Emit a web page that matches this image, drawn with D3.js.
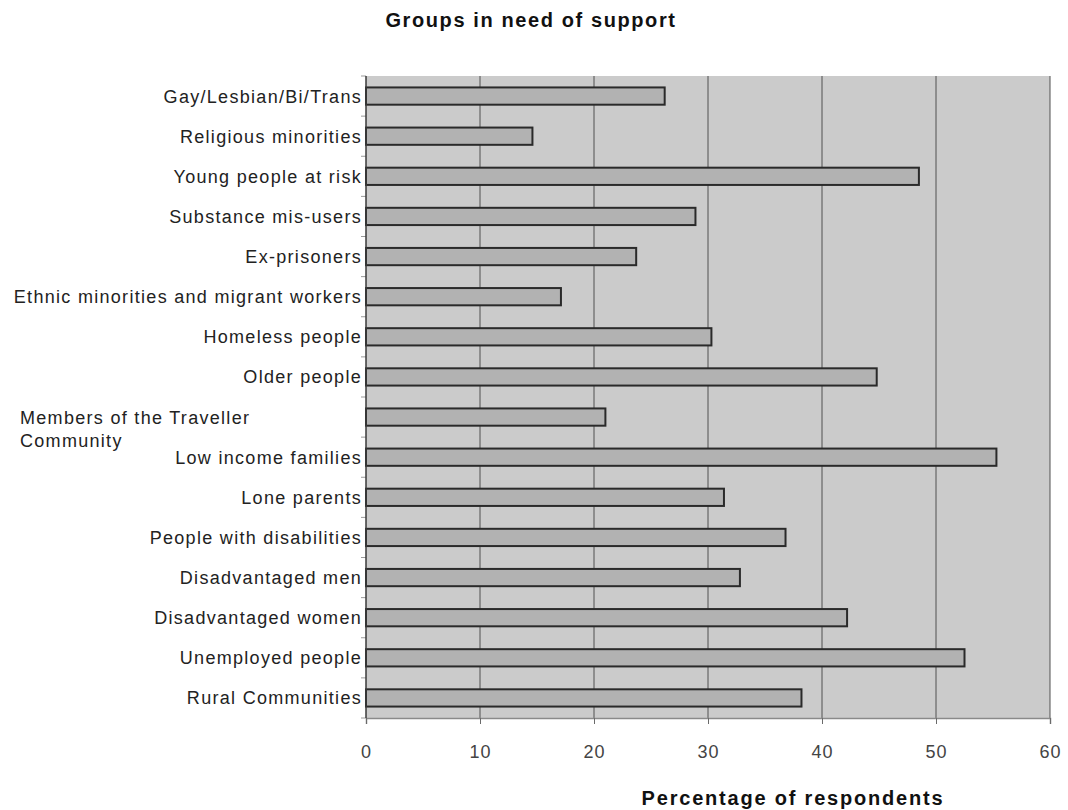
<!DOCTYPE html>
<html>
<head>
<meta charset="utf-8">
<script src="https://cdn.jsdelivr.net/npm/d3@7"></script>
<style>
  html, body { margin: 0; padding: 0; background: #fff; }
  svg { display: block; }
  text { font-family: "Liberation Sans", Arial, sans-serif; }
</style>
</head>
<body>
<svg id="chart" width="1068" height="810"></svg>
<script>
// Groups listed top to bottom
const groups = [
  "Gay/Lesbian/Bi/Trans",
  "Religious minorities",
  "Young people at risk",
  "Substance mis-users",
  "Ex-prisoners",
  "Ethnic minorities and migrant workers",
  "Homeless people",
  "Older people",
  "Members of the Traveller Community",
  "Low income families",
  "Lone parents",
  "People with disabilities",
  "Disadvantaged men",
  "Disadvantaged women",
  "Unemployed people",
  "Rural Communities"
];

// Percentage of respondents naming each group
const percentages = [
  26.2, 14.6, 48.5, 28.9, 23.7, 17.1, 30.3, 44.8,
  21.0, 55.3, 31.4, 36.8, 32.8, 42.2, 52.5, 38.2
];

const xTicks = [0, 10, 20, 30, 40, 50, 60];

const chartTitle = "Groups in need of support";
const xTitle = "Percentage of respondents";

const svg = d3.select("#chart");
const margin = { left: 366, right: 18, top: 76, bottom: 92 };
const W = 1068, H = 810;

const x = d3.scaleLinear()
  .domain([0, 60])
  .range([margin.left, W - margin.right]);

const y = d3.scaleBand()
  .domain(groups)
  .range([margin.top, H - margin.bottom])
  .paddingInner(0.57)
  .paddingOuter(0.285);

// Plot background
svg.append("rect")
  .attr("x", x(0))
  .attr("y", margin.top)
  .attr("width", x(60) - x(0))
  .attr("height", H - margin.bottom - margin.top)
  .attr("fill", "#cbcbcb");

// Vertical gridlines
svg.append("g")
  .selectAll("line")
  .data(xTicks.slice(1))
  .join("line")
  .attr("x1", d => x(d))
  .attr("x2", d => x(d))
  .attr("y1", margin.top)
  .attr("y2", H - margin.bottom)
  .attr("stroke", "#505050")
  .attr("stroke-width", 1);

// Bars
svg.append("g")
  .selectAll("rect")
  .data(groups)
  .join("rect")
  .attr("x", x(0))
  .attr("y", d => y(d))
  .attr("width", (d, i) => x(percentages[i]) - x(0))
  .attr("height", y.bandwidth())
  .attr("fill", "#b2b2b2")
  .attr("stroke", "#2a2a2a")
  .attr("stroke-width", 2);

// X axis
const xAxis = svg.append("g")
  .attr("transform", `translate(0,${H - margin.bottom})`)
  .call(d3.axisBottom(x).tickValues(xTicks).tickSize(6).tickPadding(21).tickFormat(d3.format("d")));
xAxis.select(".domain").attr("stroke", "#8a8a8a").attr("stroke-width", 1.5);
xAxis.selectAll(".tick line").attr("stroke", "#6a6a6a");
xAxis.selectAll(".tick text")
  .attr("fill", "#444")
  .style("font-size", "18px")
  .style("letter-spacing", "1px")
  .style("font-family", "'Liberation Sans', Arial, sans-serif");

// Y axis: tick marks at band boundaries
const boundaries = groups.map(g => y(g) - y.step() * y.paddingInner() / 2);
boundaries.push(H - margin.bottom);
svg.append("g")
  .selectAll("line")
  .data(boundaries)
  .join("line")
  .attr("x1", x(0) - 5)
  .attr("x2", x(0))
  .attr("y1", d => d)
  .attr("y2", d => d)
  .attr("stroke", "#9a9a9a");

svg.append("line")
  .attr("x1", x(0)).attr("x2", x(0))
  .attr("y1", margin.top).attr("y2", H - margin.bottom)
  .attr("stroke", "#3a3a3a")
  .attr("stroke-width", 1.5);

// Category labels
const labelG = svg.append("g")
  .style("font-size", "18px")
  .style("letter-spacing", "1.3px")
  .attr("fill", "#222");
groups.forEach((g, i) => {
  const cy = y(g) + y.bandwidth() / 2;
  if (g === "Members of the Traveller Community") {
    const t = labelG.append("text")
      .attr("x", 20)
      .attr("y", cy)
      .attr("dy", "0.36em");
    t.append("tspan").attr("x", 20).text("Members of the Traveller");
    t.append("tspan").attr("x", 20).attr("dy", 23).text("Community");
  } else {
    labelG.append("text")
      .attr("x", x(0) - 4)
      .attr("y", cy)
      .attr("dy", "0.36em")
      .attr("text-anchor", "end")
      .text(g);
  }
});

// Titles
svg.append("text")
  .attr("x", 531)
  .attr("y", 27)
  .attr("text-anchor", "middle")
  .attr("fill", "#111")
  .style("font-size", "20px")
  .style("letter-spacing", "1.6px")
  .style("font-weight", "bold")
  .text(chartTitle);

svg.append("text")
  .attr("x", 793)
  .attr("y", 805)
  .attr("text-anchor", "middle")
  .attr("fill", "#111")
  .style("font-size", "20px")
  .style("letter-spacing", "1.8px")
  .style("font-weight", "bold")
  .text(xTitle);
</script>
</body>
</html>
